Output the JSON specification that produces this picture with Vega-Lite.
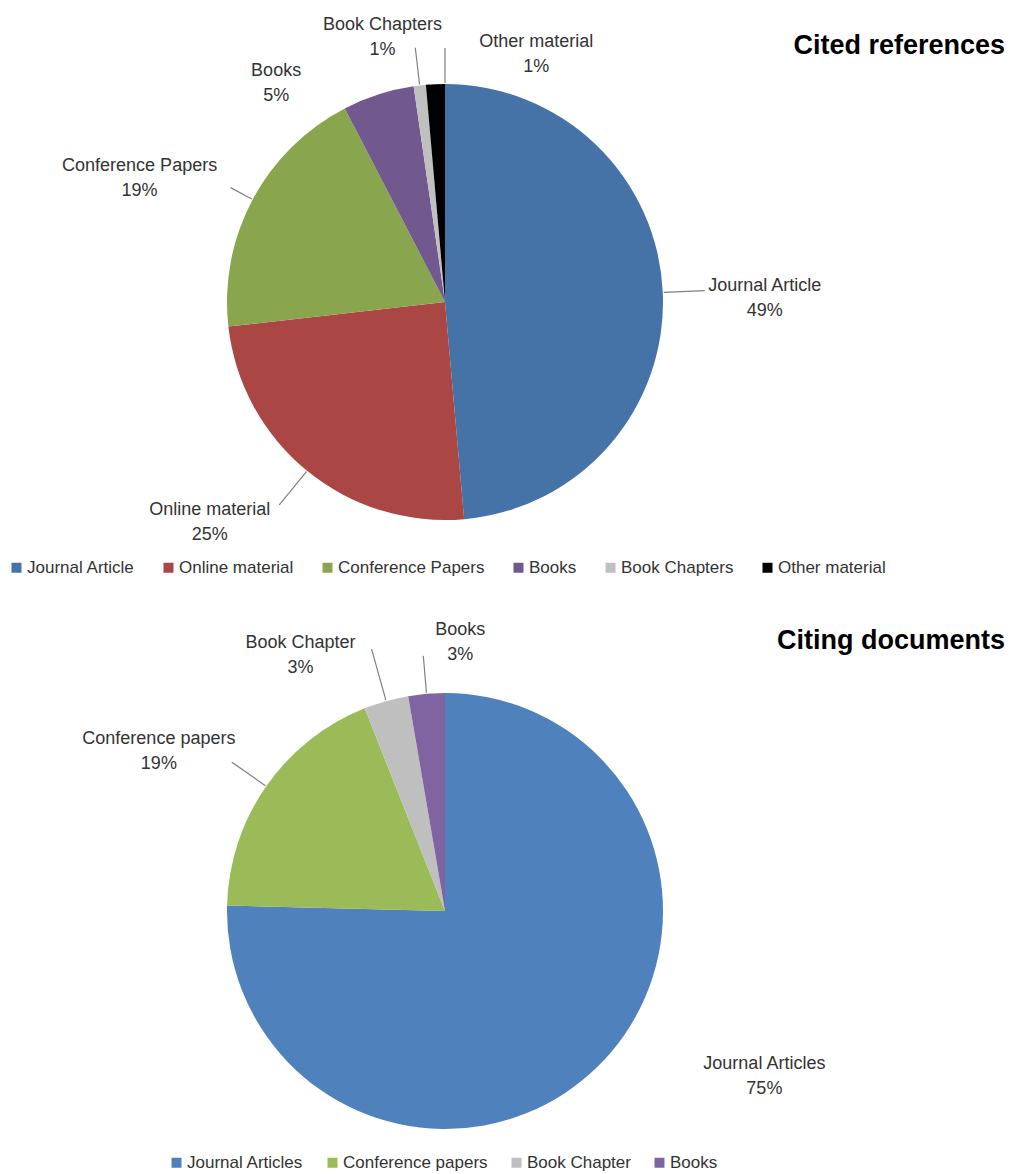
{
  "$schema": "https://vega.github.io/schema/vega-lite/v6.json",
  "padding": 0,
  "spacing": 47,
  "bounds": "flush",
  "config": {"view": {"stroke": null}, "text": {"fontSize": 18, "font": "Liberation Sans", "color": "#333333", "lineHeight": 25, "align": "center", "baseline": "middle"}},
  "resolve": {"scale": {"color": "independent", "theta": "independent"}, "legend": {"color": "independent"}},
  "vconcat": [
    {
      "width": 890,
      "height": 604,
      "title": {"text": "Cited references", "orient": "top", "anchor": "end", "frame": "group", "offset": 0, "baseline": "alphabetic", "dx": 115, "dy": 81, "fontSize": 27, "font": "Liberation Sans", "fontWeight": "bold", "color": "#000000"},
      "data": {"values": [
        {"cat": "Journal Article", "value": 48.6, "idx": 1, "lines": ["Journal Article", "49%"]},
        {"cat": "Online material", "value": 24.6, "idx": 2, "lines": ["Online material", "25%"]},
        {"cat": "Conference Papers", "value": 19.2, "idx": 3, "lines": ["Conference Papers", "19%"]},
        {"cat": "Books", "value": 5.3, "idx": 4, "lines": ["Books", "5%"]},
        {"cat": "Book Chapters", "value": 0.9, "idx": 5, "lines": ["Book Chapters", "1%"]},
        {"cat": "Other material", "value": 1.4, "idx": 6, "lines": ["Other material", "1%"]}
      ]},
      "transform": [
        {"stack": "value", "groupby": [], "sort": [{"field": "idx", "order": "ascending"}], "as": ["s0", "s1"]},
        {"fold": ["s0", "s1"], "as": ["k", "v"]},
        {"joinaggregate": [{"op": "mean", "field": "v", "as": "mid"}], "groupby": ["cat"]},
        {"filter": "datum.k === 's0'"}
      ],
      "layer": [
        {
          "mark": {"type": "arc", "radius": 218},
          "encoding": {
            "theta": {"field": "s0", "type": "quantitative", "scale": {"domain": [0, 100]}},
            "theta2": {"field": "s1"},
            "color": {"field": "cat", "type": "nominal",
              "scale": {"domain": ["Journal Article", "Online material", "Conference Papers", "Books", "Book Chapters", "Other material"],
                        "range": ["#4572A7", "#AA4643", "#89A54E", "#71588F", "#C0C0C0", "#000000"]},
              "legend": {"orient": "none", "legendX": 8, "legendY": 559, "direction": "horizontal", "columns": 6, "title": null,
                         "symbolType": "square", "symbolSize": 100, "symbolStrokeWidth": 0, "labelFontSize": 17, "labelFont": "Liberation Sans",
                         "labelColor": "#333333", "columnPadding": 25, "labelOffset": 2}}
          }
        },
        {"transform": [{"filter": "datum.cat === 'Journal Article'"}],
         "mark": {"type": "arc", "radius": 260, "radius2": 219, "filled": false, "stroke": "#808080", "strokeWidth": 1.2},
         "encoding": {"theta": {"field": "mid", "type": "quantitative", "scale": {"domain": [0, 100]}}, "theta2": {"field": "mid"}}},
        {"transform": [{"filter": "datum.cat === 'Online material'"}],
         "mark": {"type": "arc", "radius": 262, "radius2": 219, "filled": false, "stroke": "#808080", "strokeWidth": 1.2},
         "encoding": {"theta": {"field": "mid", "type": "quantitative", "scale": {"domain": [0, 100]}}, "theta2": {"field": "mid"}}},
        {"transform": [{"filter": "datum.cat === 'Conference Papers'"}],
         "mark": {"type": "arc", "radius": 243, "radius2": 219, "filled": false, "stroke": "#808080", "strokeWidth": 1.2},
         "encoding": {"theta": {"field": "mid", "type": "quantitative", "scale": {"domain": [0, 100]}}, "theta2": {"field": "mid"}}},
        {"transform": [{"filter": "datum.cat === 'Book Chapters'"}],
         "mark": {"type": "arc", "radius": 256, "radius2": 219, "filled": false, "stroke": "#808080", "strokeWidth": 1.2},
         "encoding": {"theta": {"field": "mid", "type": "quantitative", "scale": {"domain": [0, 100]}}, "theta2": {"field": "mid"}}},
        {"transform": [{"filter": "datum.cat === 'Other material'"}],
         "mark": {"type": "arc", "radius": 254, "radius2": 219, "filled": false, "stroke": "#808080", "strokeWidth": 1.2},
         "encoding": {"theta": {"field": "s1", "type": "quantitative", "scale": {"domain": [0, 100]}}, "theta2": {"field": "s1"}}},
        {"transform": [{"filter": "datum.cat === 'Journal Article'"}],
         "mark": {"type": "text", "radius": 320, "dx": 0, "dy": -2},
         "encoding": {"theta": {"field": "mid", "type": "quantitative", "scale": {"domain": [0, 100]}}, "text": {"field": "lines", "type": "nominal"}}},
        {"transform": [{"filter": "datum.cat === 'Online material'"}],
         "mark": {"type": "text", "radius": 318, "dx": -34, "dy": -38},
         "encoding": {"theta": {"field": "mid", "type": "quantitative", "scale": {"domain": [0, 100]}}, "text": {"field": "lines", "type": "nominal"}}},
        {"transform": [{"filter": "datum.cat === 'Conference Papers'"}],
         "mark": {"type": "text", "radius": 328, "dx": -16, "dy": 18},
         "encoding": {"theta": {"field": "mid", "type": "quantitative", "scale": {"domain": [0, 100]}}, "text": {"field": "lines", "type": "nominal"}}},
        {"transform": [{"filter": "datum.cat === 'Books'"}],
         "mark": {"type": "text", "radius": 261, "dx": -89, "dy": 17},
         "encoding": {"theta": {"field": "mid", "type": "quantitative", "scale": {"domain": [0, 100]}}, "text": {"field": "lines", "type": "nominal"}}},
        {"transform": [{"filter": "datum.cat === 'Book Chapters'"}],
         "mark": {"type": "text", "radius": 272, "dx": -31, "dy": -7},
         "encoding": {"theta": {"field": "mid", "type": "quantitative", "scale": {"domain": [0, 100]}}, "text": {"field": "lines", "type": "nominal"}}},
        {"transform": [{"filter": "datum.cat === 'Other material'"}],
         "mark": {"type": "text", "radius": 245, "dx": 102, "dy": -15},
         "encoding": {"theta": {"field": "mid", "type": "quantitative", "scale": {"domain": [0, 100]}}, "text": {"field": "lines", "type": "nominal"}}}
      ]
    },
    {
      "width": 890,
      "height": 520,
      "title": {"text": "Citing documents", "orient": "top", "anchor": "end", "frame": "group", "offset": 0, "baseline": "alphabetic", "dx": 115, "dy": 55, "fontSize": 27, "font": "Liberation Sans", "fontWeight": "bold", "color": "#000000"},
      "data": {"values": [
        {"cat": "Journal Articles", "value": 75.4, "idx": 1, "lines": ["Journal Articles", "75%"]},
        {"cat": "Conference papers", "value": 18.6, "idx": 2, "lines": ["Conference papers", "19%"]},
        {"cat": "Book Chapter", "value": 3.3, "idx": 3, "lines": ["Book Chapter", "3%"]},
        {"cat": "Books", "value": 2.7, "idx": 4, "lines": ["Books", "3%"]}
      ]},
      "transform": [
        {"stack": "value", "groupby": [], "sort": [{"field": "idx", "order": "ascending"}], "as": ["s0", "s1"]},
        {"fold": ["s0", "s1"], "as": ["k", "v"]},
        {"joinaggregate": [{"op": "mean", "field": "v", "as": "mid"}], "groupby": ["cat"]},
        {"filter": "datum.k === 's0'"}
      ],
      "layer": [
        {
          "mark": {"type": "arc", "radius": 218},
          "encoding": {
            "theta": {"field": "s0", "type": "quantitative", "scale": {"domain": [0, 100]}},
            "theta2": {"field": "s1"},
            "color": {"field": "cat", "type": "nominal",
              "scale": {"domain": ["Journal Articles", "Conference papers", "Book Chapter", "Books"],
                        "range": ["#4F81BD", "#9BBB59", "#BFBFBF", "#8064A2"]},
              "legend": {"orient": "none", "legendX": 168, "legendY": 503, "direction": "horizontal", "columns": 4, "title": null,
                         "symbolType": "square", "symbolSize": 100, "symbolStrokeWidth": 0, "labelFontSize": 17, "labelFont": "Liberation Sans",
                         "labelColor": "#333333", "columnPadding": 20, "labelOffset": 2}}
          }
        },
        {"transform": [{"filter": "datum.cat === 'Conference papers'"}],
         "mark": {"type": "arc", "radius": 260, "radius2": 219, "filled": false, "stroke": "#808080", "strokeWidth": 1.2},
         "encoding": {"theta": {"field": "mid", "type": "quantitative", "scale": {"domain": [0, 100]}}, "theta2": {"field": "mid"}}},
        {"transform": [{"filter": "datum.cat === 'Book Chapter'"}],
         "mark": {"type": "arc", "radius": 272, "radius2": 219, "filled": false, "stroke": "#808080", "strokeWidth": 1.2},
         "encoding": {"theta": {"field": "mid", "type": "quantitative", "scale": {"domain": [0, 100]}}, "theta2": {"field": "mid"}}},
        {"transform": [{"filter": "datum.cat === 'Books'"}],
         "mark": {"type": "arc", "radius": 256, "radius2": 219, "filled": false, "stroke": "#808080", "strokeWidth": 1.2},
         "encoding": {"theta": {"field": "mid", "type": "quantitative", "scale": {"domain": [0, 100]}}, "theta2": {"field": "mid"}}},
        {"transform": [{"filter": "datum.cat === 'Journal Articles'"}],
         "mark": {"type": "text", "radius": 340, "dx": 82, "dy": -90},
         "encoding": {"theta": {"field": "mid", "type": "quantitative", "scale": {"domain": [0, 100]}}, "text": {"field": "lines", "type": "nominal"}}},
        {"transform": [{"filter": "datum.cat === 'Conference papers'"}],
         "mark": {"type": "text", "radius": 327, "dx": -18, "dy": 15},
         "encoding": {"theta": {"field": "mid", "type": "quantitative", "scale": {"domain": [0, 100]}}, "text": {"field": "lines", "type": "nominal"}}},
        {"transform": [{"filter": "datum.cat === 'Book Chapter'"}],
         "mark": {"type": "text", "radius": 287, "dx": -67, "dy": 8},
         "encoding": {"theta": {"field": "mid", "type": "quantitative", "scale": {"domain": [0, 100]}}, "text": {"field": "lines", "type": "nominal"}}},
        {"transform": [{"filter": "datum.cat === 'Books'"}],
         "mark": {"type": "text", "radius": 268, "dx": 38, "dy": -14},
         "encoding": {"theta": {"field": "mid", "type": "quantitative", "scale": {"domain": [0, 100]}}, "text": {"field": "lines", "type": "nominal"}}}
      ]
    }
  ]
}
